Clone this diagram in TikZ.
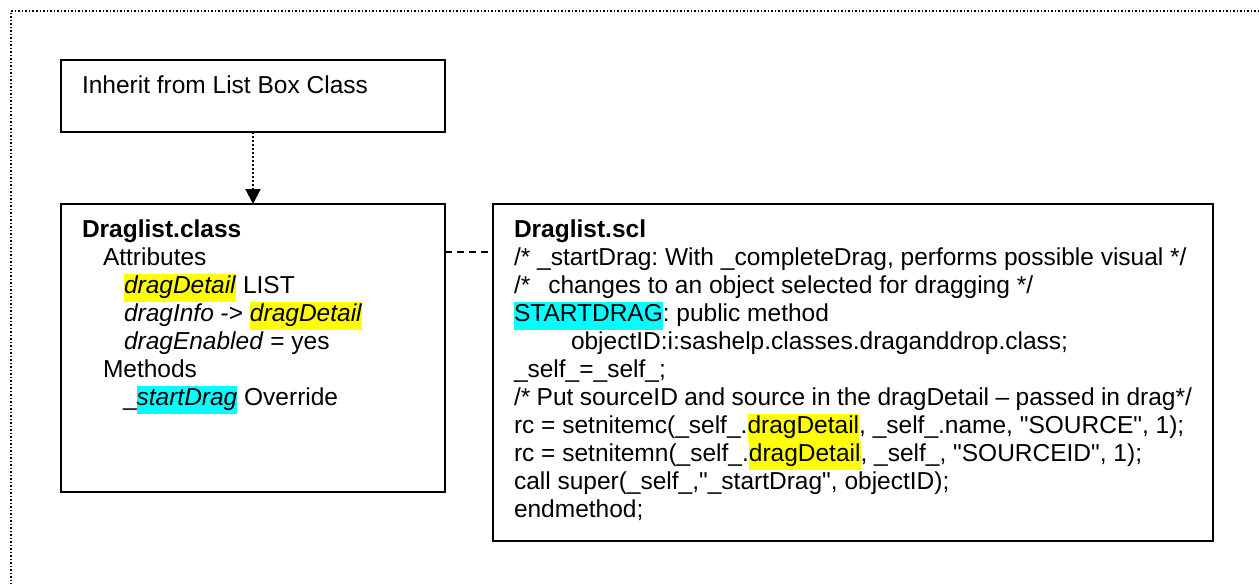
\documentclass[tikz,border=0pt]{standalone}
\usepackage{fontspec}
\setmainfont{Liberation Sans}
\usepackage{graphicx}
\usetikzlibrary{arrows.meta, positioning}
\definecolor{colorDetail}{HTML}{FFFF00}
\definecolor{colorMethod}{HTML}{00FFFF}
\newcommand{\hlDetail}[1]{{\setlength{\fboxsep}{0pt}\colorbox{colorDetail}{\strut#1}}}
\newcommand{\hlMethod}[1]{{\setlength{\fboxsep}{0pt}\colorbox{colorMethod}{\strut#1}}}
\frenchspacing

\begin{document}
\begin{tikzpicture}[x=1pt, y=-1pt,
        node distance=72pt,
        box/.style={draw, line width=2pt, outer sep=0pt, inner xsep=21pt, inner ysep=14pt,
            anchor=north west, font=\fontsize{24.5}{28}\selectfont},
        inh/.style={-{Triangle[length=15pt, width=15pt]}, line width=2pt, dotted},
        rel/.style={line width=2pt, dash pattern=on 7pt off 5pt}
    ]
        \useasboundingbox (0,0) rectangle (1259,584);
        \draw[line width=1.5pt, dash pattern=on 1.5pt off 2pt] (1259,11) -| (11,584);
        \node[box] (inherit) at (61,60) {\parbox[t][44pt][t]{342pt}{\strut Inherit from List Box Class}};
        \node[box, below=of inherit] (class) {\parbox[t][260pt][t]{342pt}{\strut\textbf{Draglist.class}\\
            \hspace*{21pt}Attributes\\
            \hspace*{42pt}\hlDetail{\textit{dragDetail}} LIST\\
            \hspace*{42pt}\textit{dragInfo} -> \hlDetail{\textit{dragDetail}}\\
            \hspace*{42pt}\textit{dragEnabled} = yes\\
            \hspace*{21pt}Methods\\
            \hspace*{41pt}\_\hlMethod{\textit{startDrag}} Override}};
        \node[box, right=48pt of class.north east, anchor=north west] (scl) {\parbox[t][309pt][t]{678pt}{\strut\textbf{Draglist.scl}\\
            /* \_startDrag: With \_completeDrag, performs possible visual */\\
            /*\hspace{18pt}changes to an object selected for dragging */\\
            \hlMethod{STARTDRAG}: public method\\
            \hspace*{57pt}objectID:i:sashelp.classes.draganddrop.class;\\
            \_self\_=\_self\_;\\
            /* Put sourceID and source in the dragDetail – passed in drag*/\\
            rc = setnitemc(\_self\_.\hlDetail{dragDetail}, \_self\_.name, \textquotedbl SOURCE\textquotedbl, 1);\\
            rc = setnitemn(\_self\_.\hlDetail{dragDetail}, \_self\_, \textquotedbl SOURCEID\textquotedbl, 1);\\
            call super(\_self\_,\textquotedbl\_startDrag\textquotedbl, objectID);\\
            endmethod;}};
        \draw[inh] (inherit) -- (class);
        \draw[rel] ([yshift=-48pt]class.north east) -- ([yshift=-48pt]scl.north west);
    \end{tikzpicture}
\end{document}
